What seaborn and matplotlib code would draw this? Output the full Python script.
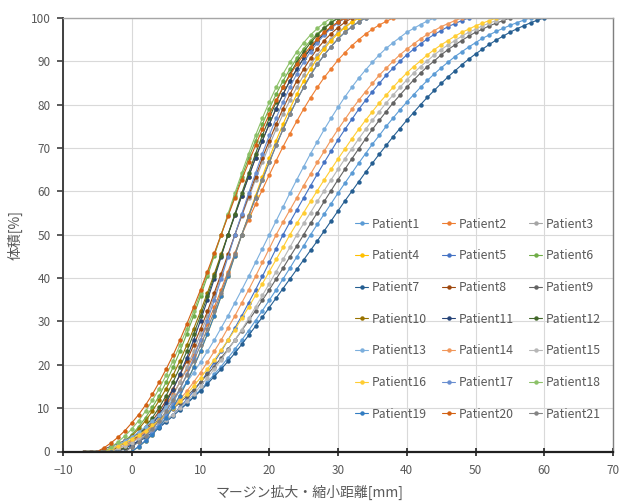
import matplotlib
matplotlib.use("Agg")
import matplotlib.pyplot as plt
from matplotlib.lines import Line2D
import pandas as pd
import seaborn as sns

# Cumulative volume [%] per patient, one value per 1 mm of margin change,
# every series starting at -7 mm.
MARGIN_START_MM = -7

patient1 = [0, 0, 0, 0, 0.6, 1.2, 1.8, 2.6, 3.3, 4.2, 5.2, 6.2, 7.3, 8.5, 9.9, 11.2, 12.7, 14.3, 16.0,
            17.8, 19.6, 21.6, 23.6, 25.7, 27.9, 30.2, 32.5, 34.9, 37.3, 39.8, 42.3, 44.9, 47.4, 50.0,
            52.4, 54.8, 57.2, 59.6, 61.9, 64.2, 66.5, 68.7, 70.9, 72.9, 75.0, 76.9, 78.8, 80.6, 82.3,
            84.0, 85.6, 87.1, 88.5, 89.8, 91.1, 92.2, 93.3, 94.3, 95.3, 96.1, 96.9, 97.6, 98.3, 98.9,
            99.5, 100]
patient2 = [0, 0, 0, 0, 0, 0, 0.9, 2.0, 3.3, 4.8, 6.6, 8.5, 10.7, 13.2, 16.0, 19.0, 22.2, 25.7, 29.4,
            33.3, 37.3, 41.5, 45.7, 50.0, 53.5, 57.0, 60.4, 63.8, 67.1, 70.3, 73.3, 76.2, 79.0, 81.6,
            84.0, 86.3, 88.3, 90.3, 92.0, 93.6, 95.0, 96.3, 97.4, 98.4, 99.2, 100]
patient3 = [0, 0, 0, 0, 0, 0, 0, 1.1, 2.4, 3.9, 5.7, 7.8, 10.2, 12.9, 16.0, 19.4, 23.1, 27.1, 31.3,
            35.8, 40.4, 45.2, 50.0, 54.3, 58.5, 62.7, 66.7, 70.6, 74.3, 77.8, 81.0, 84.0, 86.8, 89.3,
            91.5, 93.4, 95.2, 96.7, 98.0, 99.1, 100]
patient4 = [0, 0, 0, 0, 0, 0, 0, 0, 1.1, 2.4, 3.9, 5.7, 7.8, 10.2, 12.9, 16.0, 19.4, 23.1, 27.1, 31.3,
            35.8, 40.4, 45.2, 50.0, 54.5, 59.0, 63.4, 67.7, 71.7, 75.5, 79.1, 82.4, 85.5, 88.2, 90.7,
            92.9, 94.8, 96.4, 97.8, 99.0, 100]
patient5 = [0, 0, 0, 0, 0, 0, 0.7, 1.5, 2.4, 3.3, 4.5, 5.7, 7.0, 8.5, 10.2, 12.0, 13.9, 16.0, 18.2,
            20.6, 23.1, 25.7, 28.5, 31.3, 34.3, 37.3, 40.4, 43.6, 46.8, 50.0, 52.9, 55.7, 58.5, 61.3,
            64.0, 66.7, 69.3, 71.9, 74.3, 76.6, 78.9, 81.0, 83.0, 84.9, 86.8, 88.4, 90.0, 91.5, 92.8,
            94.0, 95.2, 96.2, 97.1, 98.0, 98.7, 99.4, 100]
patient6 = [0, 0, 0, 0, 0, 1.1, 2.4, 3.9, 5.7, 7.8, 10.2, 12.9, 16.0, 19.4, 23.1, 27.1, 31.3, 35.8,
            40.4, 45.2, 50.0, 54.5, 59.0, 63.4, 67.7, 71.7, 75.5, 79.1, 82.4, 85.5, 88.2, 90.7, 92.9,
            94.8, 96.4, 97.8, 99.0, 100]
patient7 = [0, 0, 0, 0, 0, 0.3, 0.8, 1.5, 2.3, 3.2, 4.3, 5.5, 6.8, 8.2, 9.6, 11.0, 12.5, 14.0, 15.6,
            17.3, 19.0, 20.8, 22.7, 24.7, 26.8, 28.9, 31.0, 33.2, 35.4, 37.6, 39.8, 42.0, 44.2, 46.4,
            48.6, 50.9, 53.2, 55.5, 57.8, 60.0, 62.2, 64.4, 66.5, 68.6, 70.6, 72.6, 74.5, 76.4, 78.2,
            80.0, 81.7, 83.3, 84.9, 86.4, 87.8, 89.2, 90.5, 91.7, 92.8, 93.9, 94.9, 95.8, 96.7, 97.5,
            98.2, 98.9, 99.5, 100]
patient8 = [0, 0, 0, 0, 0, 0, 1.0, 2.2, 3.6, 5.2, 7.1, 9.3, 11.8, 14.5, 17.6, 20.9, 24.5, 28.3, 32.3,
            36.6, 41.0, 45.5, 50.0, 54.5, 59.0, 63.4, 67.7, 71.7, 75.5, 79.1, 82.4, 85.5, 88.2, 90.7,
            92.9, 94.8, 96.4, 97.8, 99.0, 100]
patient9 = [0, 0, 0, 0.6, 1.2, 1.8, 2.6, 3.3, 4.2, 5.2, 6.2, 7.3, 8.5, 9.9, 11.2, 12.7, 14.3, 16.0,
            17.8, 19.6, 21.6, 23.6, 25.7, 27.9, 30.2, 32.5, 34.9, 37.3, 39.8, 42.3, 44.9, 47.4, 50.0,
            52.6, 55.1, 57.7, 60.2, 62.7, 65.1, 67.5, 69.8, 72.1, 74.3, 76.4, 78.4, 80.4, 82.2, 84.0,
            85.7, 87.3, 88.8, 90.1, 91.5, 92.7, 93.8, 94.8, 95.8, 96.7, 97.4, 98.2, 98.8, 99.4, 100]
patient10 = [0, 0, 0, 0, 0, 1.0, 2.2, 3.6, 5.2, 7.1, 9.3, 11.8, 14.5, 17.6, 20.9, 24.5, 28.3, 32.3,
             36.6, 41.0, 45.5, 50.0, 54.5, 59.0, 63.4, 67.7, 71.7, 75.5, 79.1, 82.4, 85.5, 88.2, 90.7,
             92.9, 94.8, 96.4, 97.8, 99.0, 100]
patient11 = [0, 0, 0, 0, 0, 0, 0, 1.2, 2.6, 4.2, 6.2, 8.5, 11.2, 14.3, 17.8, 21.6, 25.7, 30.2, 34.9,
             39.8, 44.9, 50.0, 54.5, 59.0, 63.4, 67.7, 71.7, 75.5, 79.1, 82.4, 85.5, 88.2, 90.7, 92.9,
             94.8, 96.4, 97.8, 99.0, 100]
patient12 = [0, 0, 0, 0, 0, 0, 1.1, 2.4, 3.9, 5.7, 7.8, 10.2, 12.9, 16.0, 19.4, 23.1, 27.1, 31.3,
             35.8, 40.4, 45.2, 50.0, 54.8, 59.6, 64.2, 68.7, 72.9, 76.9, 80.6, 84.0, 87.1, 89.8, 92.2,
             94.3, 96.1, 97.6, 98.9, 100]
patient13 = [0, 0, 0, 0, 0.7, 1.5, 2.4, 3.3, 4.5, 5.7, 7.0, 8.5, 10.2, 12.0, 13.9, 16.0, 18.2, 20.6,
             23.1, 25.7, 28.5, 31.3, 34.3, 37.3, 40.4, 43.6, 46.8, 50.0, 53.2, 56.4, 59.6, 62.7, 65.7,
             68.7, 71.5, 74.3, 76.9, 79.4, 81.8, 84.0, 86.1, 88.0, 89.8, 91.5, 93.0, 94.3, 95.5, 96.7,
             97.6, 98.5, 99.3, 100]
patient14 = [0, 0, 0, 0, 0, 0.7, 1.5, 2.4, 3.3, 4.5, 5.7, 7.0, 8.5, 10.2, 12.0, 13.9, 16.0, 18.2,
             20.6, 23.1, 25.7, 28.5, 31.3, 34.3, 37.3, 40.4, 43.6, 46.8, 50.0, 52.9, 55.7, 58.5, 61.3,
             64.0, 66.7, 69.3, 71.9, 74.3, 76.6, 78.9, 81.0, 83.0, 84.9, 86.8, 88.4, 90.0, 91.5, 92.8,
             94.0, 95.2, 96.2, 97.1, 98.0, 98.7, 99.4, 100]
patient15 = [0, 0, 0, 0, 0, 0.6, 1.3, 2.0, 2.9, 3.8, 4.8, 6.0, 7.2, 8.5, 10.0, 11.6, 13.2, 15.1, 17.0,
             19.0, 21.1, 23.4, 25.7, 28.1, 30.7, 33.3, 36.0, 38.7, 41.5, 44.3, 47.1, 50.0, 52.6, 55.1,
             57.7, 60.2, 62.7, 65.1, 67.5, 69.8, 72.1, 74.3, 76.4, 78.4, 80.4, 82.2, 84.0, 85.7, 87.3,
             88.8, 90.1, 91.5, 92.7, 93.8, 94.8, 95.8, 96.7, 97.4, 98.2, 98.8, 99.4, 100]
patient16 = [0, 0, 0, 0, 0.6, 1.3, 2.0, 2.9, 3.8, 4.8, 6.0, 7.2, 8.5, 10.0, 11.6, 13.2, 15.1, 17.0,
             19.0, 21.1, 23.4, 25.7, 28.1, 30.7, 33.3, 36.0, 38.7, 41.5, 44.3, 47.1, 50.0, 52.6, 55.1,
             57.7, 60.2, 62.7, 65.1, 67.5, 69.8, 72.1, 74.3, 76.4, 78.4, 80.4, 82.2, 84.0, 85.7, 87.3,
             88.8, 90.1, 91.5, 92.7, 93.8, 94.8, 95.8, 96.7, 97.4, 98.2, 98.8, 99.4, 100]
patient17 = [0, 0, 0, 0, 0, 0, 0, 0, 1.2, 2.6, 4.2, 6.2, 8.5, 11.2, 14.3, 17.8, 21.6, 25.7, 30.2,
             34.9, 39.8, 44.9, 50.0, 54.8, 59.6, 64.2, 68.7, 72.9, 76.9, 80.6, 84.0, 87.1, 89.8, 92.2,
             94.3, 96.1, 97.6, 98.9, 100]
patient18 = [0, 0, 0, 0, 1.0, 2.2, 3.6, 5.2, 7.1, 9.3, 11.8, 14.5, 17.6, 20.9, 24.5, 28.3, 32.3, 36.6,
             41.0, 45.5, 50.0, 54.8, 59.6, 64.2, 68.7, 72.9, 76.9, 80.6, 84.0, 87.1, 89.8, 92.2, 94.3,
             96.1, 97.6, 98.9, 100]
patient19 = [0, 0, 0, 0, 0, 0, 0, 0, 1.1, 2.4, 3.9, 5.7, 7.8, 10.2, 12.9, 16.0, 19.4, 23.1, 27.1,
             31.3, 35.8, 40.4, 45.2, 50.0, 54.3, 58.5, 62.7, 66.7, 70.6, 74.3, 77.8, 81.0, 84.0, 86.8,
             89.3, 91.5, 93.4, 95.2, 96.7, 98.0, 99.1, 100]
patient20 = [0, 0, 0, 0.9, 2.0, 3.3, 4.8, 6.6, 8.5, 10.7, 13.2, 16.0, 19.0, 22.2, 25.7, 29.4, 33.3,
             37.3, 41.5, 45.7, 50.0, 54.3, 58.5, 62.7, 66.7, 70.6, 74.3, 77.8, 81.0, 84.0, 86.8, 89.3,
             91.5, 93.4, 95.2, 96.7, 98.0, 99.1, 100]
patient21 = [0, 0, 0, 0, 0, 0, 0, 1.0, 2.2, 3.6, 5.2, 7.1, 9.3, 11.8, 14.5, 17.6, 20.9, 24.5, 28.3,
             32.3, 36.6, 41.0, 45.5, 50.0, 54.3, 58.5, 62.7, 66.7, 70.6, 74.3, 77.8, 81.0, 84.0, 86.8,
             89.3, 91.5, 93.4, 95.2, 96.7, 98.0, 99.1, 100]

volumes = [patient1, patient2, patient3, patient4, patient5, patient6, patient7,
           patient8, patient9, patient10, patient11, patient12, patient13, patient14,
           patient15, patient16, patient17, patient18, patient19, patient20, patient21]
labels = [f"Patient{i}" for i in range(1, 22)]
colors = ["#5B9BD5", "#ED7D31", "#A5A5A5", "#FFC000", "#4472C4", "#70AD47",
          "#255E91", "#9E480E", "#636363", "#997300", "#264478", "#43682B",
          "#7CAFDD", "#F1975A", "#B7B7B7", "#FFCD33", "#698ED0", "#8CC168",
          "#327DC2", "#D26012", "#848484"]
x_ticks = [-10, 0, 10, 20, 30, 40, 50, 60, 70]
y_ticks = [0, 10, 20, 30, 40, 50, 60, 70, 80, 90, 100]

rows = []
for name, vals in zip(labels, volumes):
    for i, v in enumerate(vals):
        rows.append((name, MARGIN_START_MM + i, v))
df = pd.DataFrame(rows, columns=["patient", "margin", "volume"])

sns.set_theme(style="white")
plt.rcParams["font.family"] = ["Noto Sans CJK JP", "DejaVu Sans"]

W, H = 619, 504
fig = plt.figure(figsize=(W / 100, H / 100), dpi=100)
ax = fig.add_axes([63 / W, 1 - 451.5 / H, 550 / W, 433.5 / H])

palette = dict(zip(labels, colors))
MS, LW = 3.2, 0.8
sns.lineplot(data=df, x="margin", y="volume", hue="patient", hue_order=labels,
             palette=palette, estimator=None, sort=False, marker="o",
             markersize=MS, markeredgewidth=0, linewidth=LW, legend=False, ax=ax)

ax.set_xlim(-10, 70)
ax.set_ylim(0, 100)
ax.set_xticks(x_ticks)
ax.set_yticks(y_ticks)
ax.grid(True, color="#d9d9d9", linewidth=0.8)
ax.set_axisbelow(True)

tick_color = "#595959"
ax.tick_params(axis="y", direction="out", length=4, width=1.2, color="#404040",
               labelsize=8.5, labelcolor=tick_color, pad=5, left=True)
ax.tick_params(axis="x", direction="inout", length=6, width=1.2, color="#202020",
               labelsize=8.5, labelcolor=tick_color, pad=6, bottom=True)

for side, col, lw in [("left", "#404040", 1.4), ("bottom", "#202020", 1.6),
                      ("top", "#a6a6a6", 1.0), ("right", "#7f7f7f", 1.0)]:
    ax.spines[side].set_visible(True)
    ax.spines[side].set_color(col)
    ax.spines[side].set_linewidth(lw)

ax.set_xlabel("")
ax.set_ylabel("")
fig.text(310 / W, 1 - 492 / H, "マージン拡大・縮小距離[mm]", ha="center", va="center",
         fontsize=10, color=tick_color)
fig.text(15 / W, 1 - 235 / H, "体積[%]", ha="center", va="center", rotation=90,
         fontsize=10, color=tick_color)

# legend filled row by row: Patient1-3 on the first row, etc.
handles = [Line2D([], [], color=c, marker="o", markersize=MS, markeredgewidth=0,
                  linewidth=LW) for c in colors]
order = [r * 3 + c for c in range(3) for r in range(7)]
ax.legend([handles[i] for i in order], [labels[i] for i in order], ncol=3,
          loc="upper left", bbox_to_anchor=(355 / W, 1 - 217.5 / H),
          bbox_transform=fig.transFigure, frameon=False, fontsize=8.8,
          labelcolor=tick_color, handlelength=1.1, handletextpad=0.3,
          columnspacing=1.2, labelspacing=1.53, borderpad=0, borderaxespad=0)

fig.savefig("out.png", dpi=100)
